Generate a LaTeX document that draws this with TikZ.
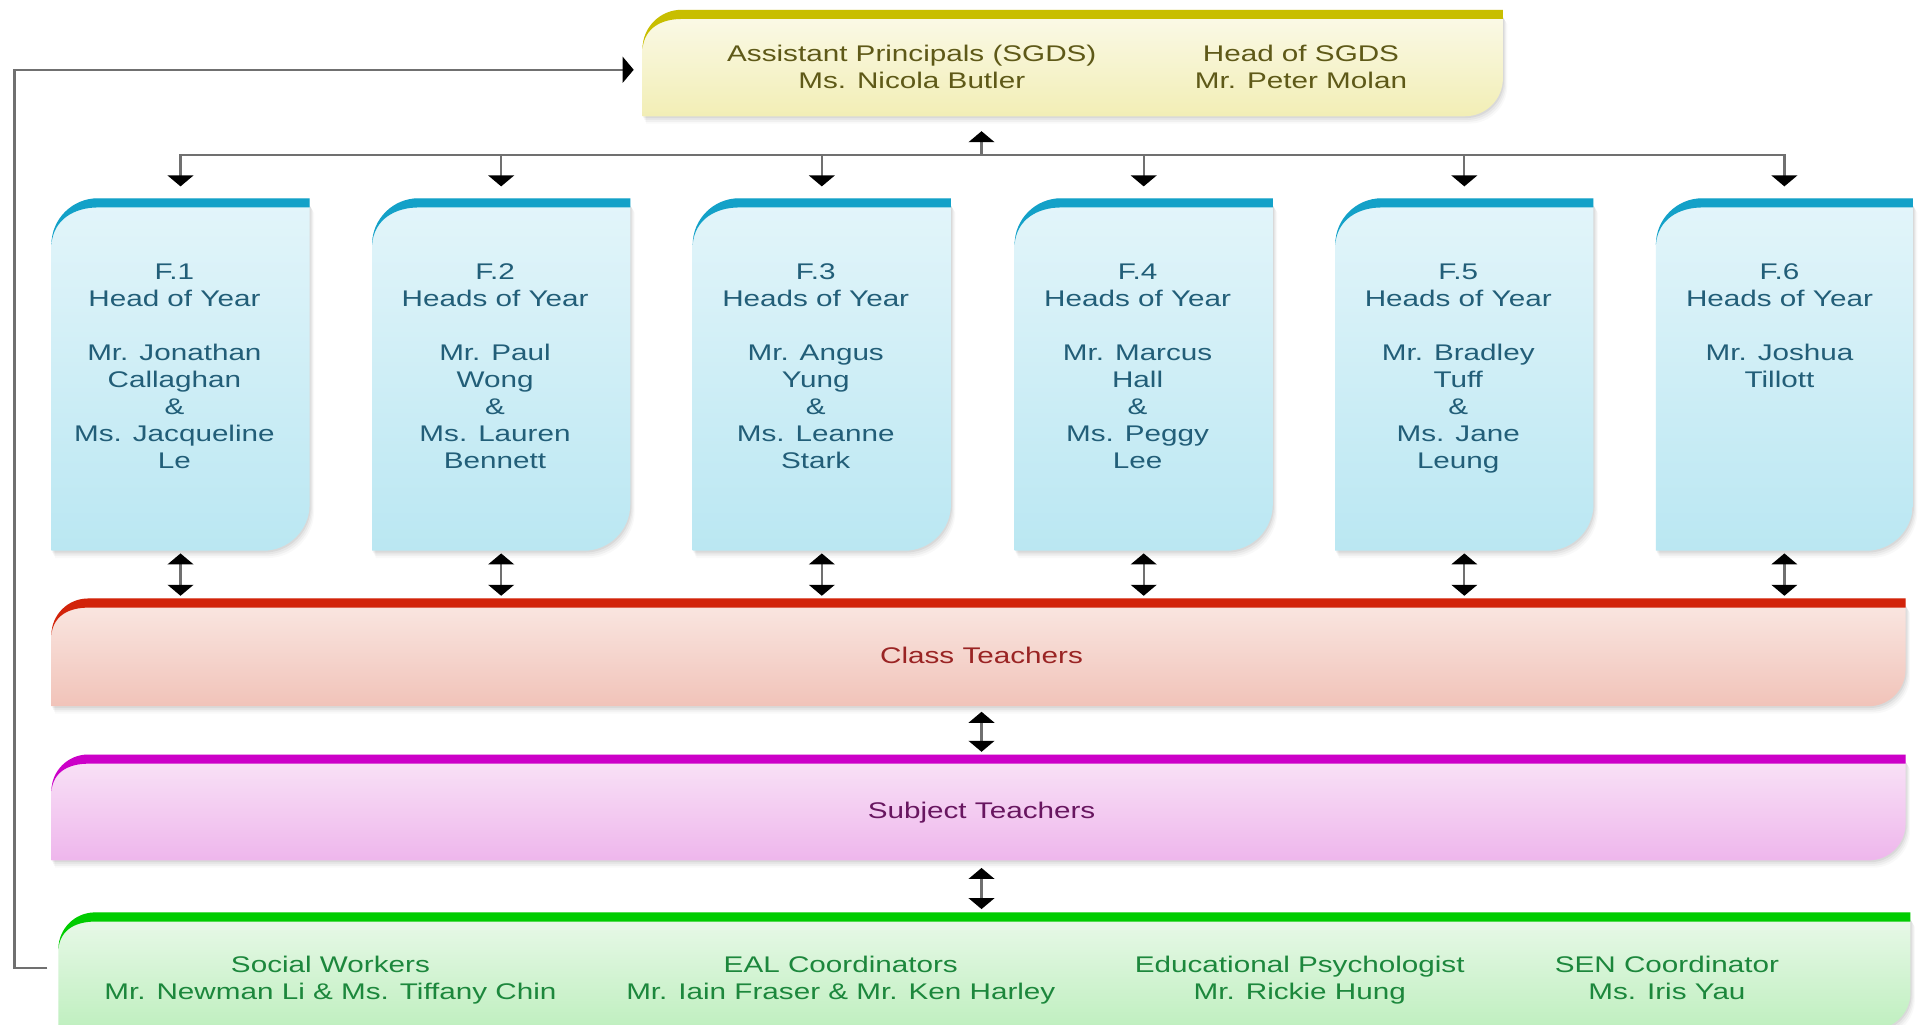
\documentclass[tikz,border=0pt]{standalone}
\usepackage{fontspec}
\setmainfont{Liberation Sans}[FakeStretch=1.31]
\usetikzlibrary{arrows.meta}
\definecolor{linegray}{HTML}{707070}
\definecolor{yltop}{HTML}{FBFAEA}\definecolor{ylbot}{HTML}{F2EEB5}\definecolor{ylbar}{HTML}{C8BE00}\definecolor{yltext}{HTML}{5E5918}
\definecolor{cytop}{HTML}{E3F5FA}\definecolor{cybot}{HTML}{BAE7F2}\definecolor{cybar}{HTML}{13A1C8}\definecolor{cytext}{HTML}{225E78}
\definecolor{rdtop}{HTML}{FAE8E3}\definecolor{rdbot}{HTML}{F1C3B9}\definecolor{rdbar}{HTML}{D2230A}\definecolor{rdtext}{HTML}{9A2424}
\definecolor{mgtop}{HTML}{F9E4F7}\definecolor{mgbot}{HTML}{EEB6EC}\definecolor{mgbar}{HTML}{CC00C8}\definecolor{mgtext}{HTML}{681660}
\definecolor{grtop}{HTML}{EAF9EA}\definecolor{grbot}{HTML}{BFEFBF}\definecolor{grbar}{HTML}{00CC00}\definecolor{grtext}{HTML}{1C873C}
% #1 name, #2 x1, #3 y1 (top), #4 x2, #5 y2 (bottom), #6 top-left radius, #7 bottom-right radius, #8 colour prefix
\newcommand\panel[8]{%
  \pgfmathsetmacro\pA{#3+#6}%
  \pgfmathsetmacro\pB{#2+#6}%
  \pgfmathsetmacro\pC{#5-#7}%
  \pgfmathsetmacro\pT{#3+7.5}%
  \pgfmathsetmacro\pD{#2+0.5*#6}%
  \pgfmathsetmacro\pE{#3+0.45*#6}%
  \pgfmathsetmacro\pS{#3+6}%
  \pgfmathsetmacro\pW{#4-#2}%
  \pgfmathsetmacro\pH{#5-#3}%
  \foreach \s/\o in {1.5/0.05,3/0.04,4.5/0.035,6/0.025}{%
    \fill[black,opacity=\o] (#2+\s*0.5,#5+\s) -- (#2+\s*0.5,\pA) -- (#4,\pS) -- (#4+\s*0.6,\pS+\s) -- (#4+\s*0.6,\pC+\s) arc[start angle=0,end angle=90,radius=#7] -- cycle;}%
  \shade[top color=#8top,bottom color=#8bot] (#2,#5) -- (#2,\pA) arc[start angle=180,end angle=270,radius=#6] -- (#4,#3) -- (#4,\pC) arc[start angle=0,end angle=90,radius=#7] -- cycle;
  \fill[#8bar] (#2,\pA) arc[start angle=180,end angle=270,radius=#6] -- (#4,#3) -- (#4,\pT) -- (\pB,\pT) .. controls (\pD,\pT) and (#2+1.5,\pE) .. (#2,\pA) -- cycle;
  \node[inner sep=0pt,minimum width=\pW pt,minimum height=\pH pt] (#1) at ({(#2+#4)/2},{(#3+#5)/2}) {};
}
\begin{document}
\begin{tikzpicture}[x=1pt,y=-1pt,
  >={Triangle[width=21pt,length=9pt,color=black]},
  conn/.style={draw=linegray,line width=1.8pt},
  txt/.style={inner sep=0pt,align=center,anchor=north,font=\fontsize{18.5}{22}\selectfont}]
\useasboundingbox (0,0) rectangle (1568,837.5);
\fill[white] (0,0) rectangle (1568,837.5);
% boxes
\panel{top}{525}{8}{1228}{95}{32}{31}{yl}
\panel{y1}{42}{162}{253}{450}{38}{38}{cy}
\panel{y2}{304}{162}{515}{450}{38}{38}{cy}
\panel{y3}{566}{162}{777}{450}{38}{38}{cy}
\panel{y4}{829}{162}{1040}{450}{38}{38}{cy}
\panel{y5}{1091}{162}{1302}{450}{38}{38}{cy}
\panel{y6}{1353}{162}{1563}{450}{38}{38}{cy}
\panel{cls}{42}{489}{1557}{577}{30}{30}{rd}
\panel{sub}{42}{616.5}{1557}{703}{30}{30}{mg}
\panel{grn}{47.7}{745.5}{1561}{841}{30}{30}{gr}
% texts
\node[txt,text=yltext] (ap) at (745,36.3) {Assistant Principals (SGDS)\\Ms. Nicola Butler};
\node[txt,text=yltext] (hs) at (1063,36.3) {Head of SGDS\\Mr. Peter Molan};
\node[txt,text=cytext] (t1) at (142.5,215.5) {F.1\\Head of Year\\[22pt]Mr. Jonathan\\Callaghan\\\&\\Ms. Jacqueline\\Le};
\node[txt,text=cytext] (t2) at (404.5,215.5) {F.2\\Heads of Year\\[22pt]Mr. Paul\\Wong\\\&\\Ms. Lauren\\Bennett};
\node[txt,text=cytext] (t3) at (666.5,215.5) {F.3\\Heads of Year\\[22pt]Mr. Angus\\Yung\\\&\\Ms. Leanne\\Stark};
\node[txt,text=cytext] (t4) at (929.5,215.5) {F.4\\Heads of Year\\[22pt]Mr. Marcus\\Hall\\\&\\Ms. Peggy\\Lee};
\node[txt,text=cytext] (t5) at (1191.5,215.5) {F.5\\Heads of Year\\[22pt]Mr. Bradley\\Tuff\\\&\\Ms. Jane\\Leung};
\node[txt,text=cytext] (t6) at (1454,215.5) {F.6\\Heads of Year\\[22pt]Mr. Joshua\\Tillott};
\node[txt,text=rdtext] (ct) at (802,528.3) {Class Teachers};
\node[txt,text=mgtext] (st) at (802,655.3) {Subject Teachers};
\node[txt,text=grtext] (sw) at (270,781.3) {Social Workers\\Mr. Newman Li \& Ms. Tiffany Chin};
\node[txt,text=grtext] (eal) at (687,781.3) {EAL Coordinators\\Mr. Iain Fraser \& Mr. Ken Harley};
\node[txt,text=grtext] (ep) at (1062,781.3) {Educational Psychologist\\Mr. Rickie Hung};
\node[txt,text=grtext] (sen) at (1362,781.3) {SEN Coordinator\\Ms. Iris Yau};
% connectors
\coordinate (busmid) at (802,126.5);
\draw[conn,->,shorten >=12pt] (busmid) -- (busmid |- top.south);
\foreach \i in {1,...,6}{\draw[conn,->,shorten >=9.5pt] (busmid) -| (y\i.north);}
\foreach \i in {1,...,6}{\draw[conn,<->,shorten <=2pt,shorten >=2pt] (y\i.south) -- (y\i.south |- cls.north);}
\draw[conn,<->,shorten <=4.4pt,shorten >=2pt] (cls.south -| busmid) -- (sub.north -| busmid);
\draw[conn,<->,shorten <=6pt,shorten >=2.5pt] (sub.south -| busmid) -- (grn.north -| busmid);
\draw[conn,->,shorten <=8.7pt,shorten >=7pt] ([yshift=2pt]grn.west) -- ++(-35.7,0) |- ([yshift=-5.5pt]top.west);
\end{tikzpicture}
\end{document}
